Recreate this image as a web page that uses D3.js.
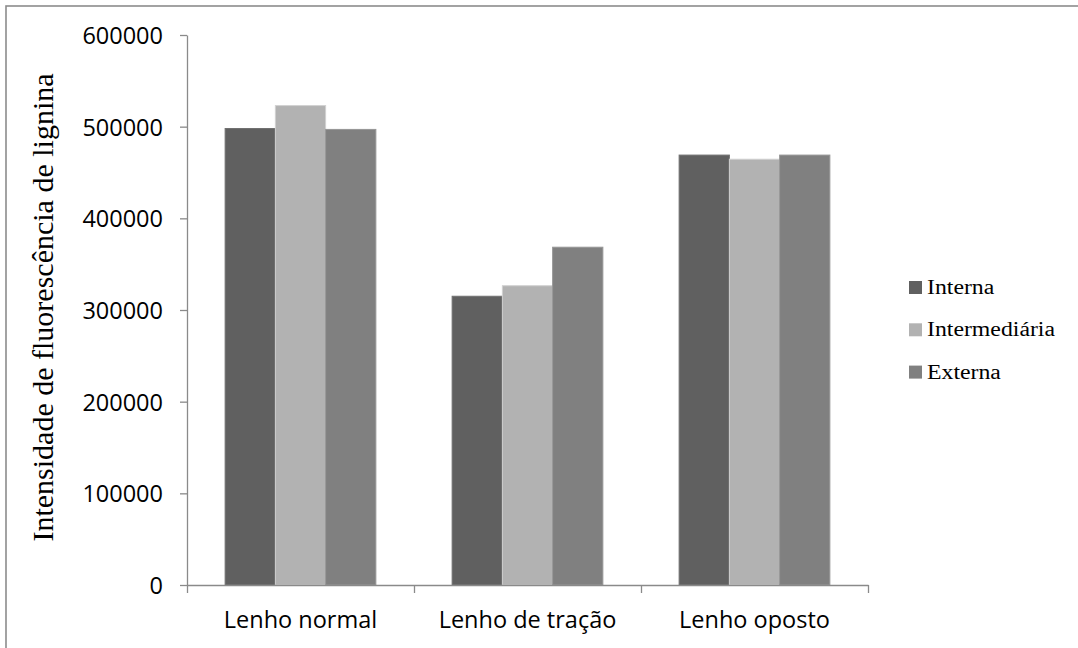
<!DOCTYPE html>
<html>
<head>
<meta charset="utf-8">
<script src="https://cdn.jsdelivr.net/npm/d3@7"></script>
<style>
  html, body { margin: 0; padding: 0; background: #fff; }
  svg { display: block; }
</style>
</head>
<body>
<svg id="chart" width="1078" height="648"></svg>
<script>
const categories = ["Lenho normal", "Lenho de tração", "Lenho oposto"];
const seriesNames = ["Interna", "Intermediária", "Externa"];
const interna = [498000, 315000, 469000];
const intermediaria = [523000, 326500, 464500];
const externa = [497000, 368500, 469000];
const yTicks = [0, 100000, 200000, 300000, 400000, 500000, 600000];
const colors = ["#606060", "#b2b2b2", "#808080"];
const axisTitle = "Intensidade de fluorescência de lignina";

const seriesValues = [interna, intermediaria, externa];

const svg = d3.select("#chart");

// outer frame
svg.append("rect")
  .attr("x", 6).attr("y", 6)
  .attr("width", 1200).attr("height", 800)
  .attr("fill", "none").attr("stroke", "#8c8c8c").attr("stroke-width", 1.6);

const plot = { left: 187, right: 868, top: 35, bottom: 585 };

const y = d3.scaleLinear().domain([0, 600000]).range([plot.bottom, plot.top]);
const x0 = d3.scaleBand().domain(categories).range([plot.left, plot.right]).padding(0);
const bw = x0.bandwidth();
const x1 = d3.scaleBand().domain(seriesNames).range([bw * 0.168, bw * 0.832]).padding(0);

const tickFont = "'Open Sans', sans-serif";

// bars
seriesNames.forEach((s, si) => {
  svg.append("g").selectAll("rect")
    .data(categories.map((c, ci) => ({ c, v: seriesValues[si][ci] })))
    .join("rect")
    .attr("x", d => x0(d.c) + x1(s))
    .attr("y", d => y(d.v))
    .attr("width", x1.bandwidth())
    .attr("height", d => y(0) - y(d.v))
    .attr("fill", colors[si])
    .attr("stroke", d3.color(colors[si]).brighter(0.45).formatHex())
    .attr("stroke-width", 1);
});

// y axis
const yAxis = d3.axisLeft(y).tickValues(yTicks).tickFormat(d3.format("d"))
  .tickSizeInner(7).tickSizeOuter(0).tickPadding(17);
const gy = svg.append("g").attr("transform", `translate(${plot.left},0)`).call(yAxis);
gy.select(".domain").attr("stroke", "#8a8a8a").attr("stroke-width", 1.3);
gy.selectAll(".tick line").attr("stroke", "#8a8a8a").attr("stroke-width", 1.3);
gy.selectAll(".tick text")
  .attr("font-family", tickFont).attr("font-size", 23.5)
  .attr("fill", "#000").attr("dy", "0.36em");

// x axis: ticks at category boundaries
const xb = d3.scaleLinear().domain([0, categories.length]).range([plot.left, plot.right]);
const xAxisB = d3.axisBottom(xb).tickValues(d3.range(categories.length + 1))
  .tickFormat("").tickSizeInner(8).tickSizeOuter(0);
const gx = svg.append("g").attr("transform", `translate(0,${plot.bottom})`).call(xAxisB);
gx.select(".domain").attr("stroke", "#8a8a8a").attr("stroke-width", 1.3);
gx.selectAll(".tick line").attr("stroke", "#8a8a8a").attr("stroke-width", 1.3);

// category labels
const xAxisC = d3.axisBottom(x0).tickSize(0).tickPadding(0);
const gc = svg.append("g").attr("transform", `translate(0,${plot.bottom})`).call(xAxisC);
gc.select(".domain").remove();
gc.selectAll(".tick text")
  .attr("font-family", tickFont).attr("font-size", 23.5)
  .attr("fill", "#000").attr("y", 43).attr("dy", null);

// y axis title
svg.append("text")
  .attr("transform", `translate(53,${(541 + 74) / 2}) rotate(-90)`)
  .attr("text-anchor", "middle")
  .attr("font-family", "'Liberation Serif', 'Times New Roman', serif")
  .attr("font-size", 30)
  .attr("fill", "#000")
  .text(axisTitle);

// legend
const lg = svg.append("g");
seriesNames.forEach((s, i) => {
  const yy = 281 + i * 42.3;
  lg.append("rect").attr("x", 909).attr("y", yy).attr("width", 13).attr("height", 13)
    .attr("fill", colors[i]);
  lg.append("text")
    .attr("transform", `translate(927,${yy + 13}) scale(1.16,1)`)
    .attr("font-family", "'Liberation Serif', 'Times New Roman', serif")
    .attr("font-size", 20.5)
    .attr("fill", "#000")
    .text(s);
});
</script>
</body>
</html>
